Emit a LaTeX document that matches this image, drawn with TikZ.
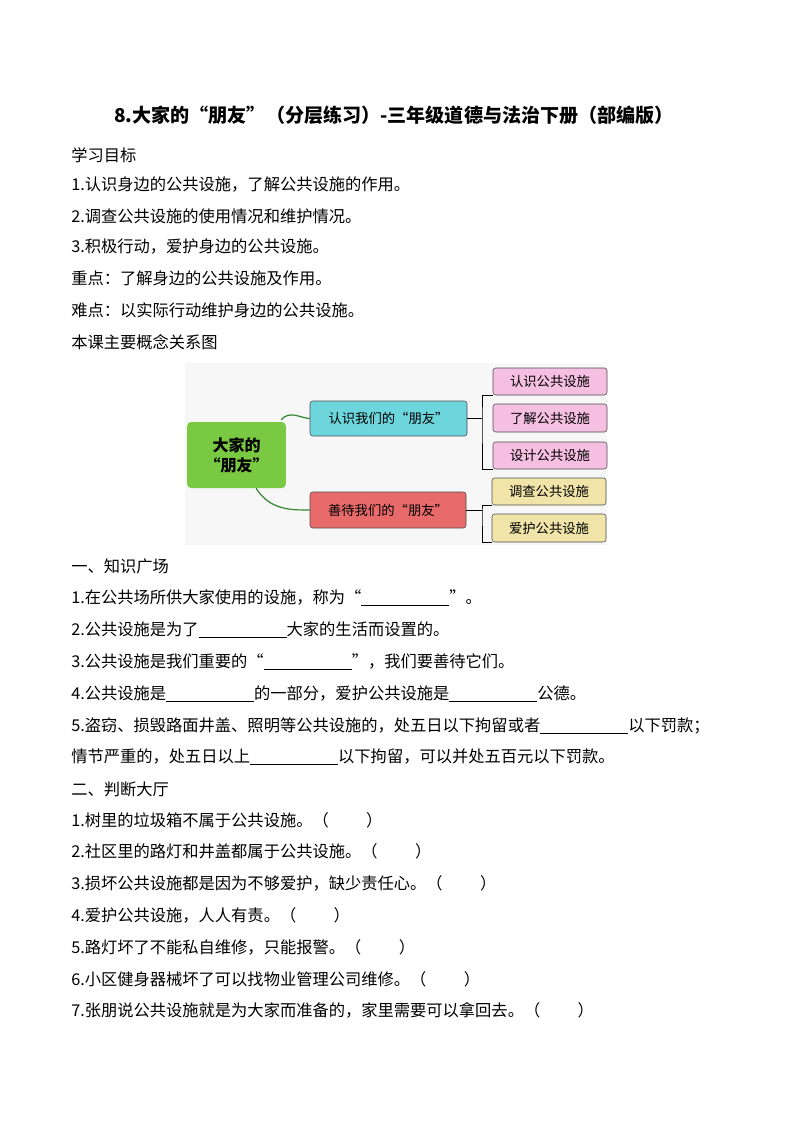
\documentclass[tikz,border=0pt]{standalone}
\usepackage{fontspec}
\setmainfont{Liberation Serif}
\newfontfamily\cjk{Noto Sans CJK SC}
\newcommand{\blk}[1]{\underline{\makebox[#1]{}}}
\definecolor{cgreen}{HTML}{7AC943}
\definecolor{ccyan}{HTML}{6DD5DC}
\definecolor{cred}{HTML}{E96A6A}
\definecolor{cpink}{HTML}{F5BFE2}
\definecolor{cyel}{HTML}{F0E4A8}
\begin{document}
\begin{tikzpicture}[x=0.75pt,y=-0.75pt,
  line/.style={anchor=west,inner sep=0pt,font=\cjk\fontsize{12.2}{14}\selectfont},
  box/.style={draw=black!70,rounded corners=2pt,inner sep=0pt,font=\cjk\fontsize{10}{12}\selectfont},
  conn/.style={draw=green!40!black!80,line width=0.9pt},
  brk/.style={draw=black,line width=0.6pt}]
\useasboundingbox (0,0) rectangle (794,1123);
\fill[white] (0,0) rectangle (794,1123);
\node[inner sep=0pt,font=\cjk\bfseries\fontsize{14.3}{16}\selectfont] (title) at (394,115) {8.大家的“朋友”（分层练习）-三年级道德与法治下册（部编版）};
\node[line] (l1) at (71,155) {学习目标};
\node[line] (l2) at (71,185) {1.认识身边的公共设施，了解公共设施的作用。};
\node[line] (l3) at (71,216) {2.调查公共设施的使用情况和维护情况。};
\node[line] (l4) at (71,247) {3.积极行动，爱护身边的公共设施。};
\node[line] (l5) at (71,278) {重点：了解身边的公共设施及作用。};
\node[line] (l6) at (71,310) {难点：以实际行动维护身边的公共设施。};
\node[line] (l7) at (71,342) {本课主要概念关系图};
% diagram
\fill[black!3] (185,363) rectangle (607,545);
\node[box,fill=cgreen,draw=none,text width=60pt,align=center,font=\cjk\bfseries\fontsize{12}{15}\selectfont,minimum width=74pt,minimum height=49.5pt,rounded corners=3pt] (c) at (236.5,455) {大家的\\“朋友”};
\node[box,fill=ccyan,minimum width=117.75pt,minimum height=26.25pt] (a) at (388.5,418.5) {认识我们的“朋友”};
\node[box,fill=cred,minimum width=117pt,minimum height=27pt] (b) at (388,510) {善待我们的“朋友”};
\node[box,fill=cpink,minimum width=85.5pt,minimum height=20.25pt] (p1) at (550,381.5) {认识公共设施};
\node[box,fill=cpink,minimum width=85.5pt,minimum height=21pt] (p2) at (550,418) {了解公共设施};
\node[box,fill=cpink,minimum width=85.5pt,minimum height=20.25pt] (p3) at (550,455.5) {设计公共设施};
\node[box,fill=cyel,minimum width=85.5pt,minimum height=20.25pt] (y1) at (549,491.5) {调查公共设施};
\node[box,fill=cyel,minimum width=85.5pt,minimum height=21pt] (y2) at (549,528) {爱护公共设施};
\draw[conn] (c.north east) ++(-5,-2) .. controls (290,410) and (300,418) .. (a.west);
\draw[conn] (c.south east) ++(-30,0) .. controls (270,510) and (290,510) .. (b.west);
\coordinate (ja) at (482,418.5);
\coordinate (jb) at (482,510);
\draw[brk] (a.east) -- (ja);
\draw[brk] (p1.south west) -| (ja) |- (p3.south west);
\draw[brk] (b.east) -- (jb);
\draw[brk] (y1.south west) -| (jb) |- (y2.south west);
% questions
\node[line] (q0) at (71,566) {一、知识广场};
\node[line] (q1) at (71,598) {1.在公共场所供大家使用的设施，称为“\blk{66pt}”。};
\node[line] (q2) at (71,630) {2.公共设施是为了\blk{66pt}大家的生活而设置的。};
\node[line] (q3) at (71,662) {3.公共设施是我们重要的“\blk{66pt}”，我们要善待它们。};
\node[line] (q4) at (71,694) {4.公共设施是\blk{66pt}的一部分，爱护公共设施是\blk{66pt}公德。};
\node[line] (q5) at (71,726) {5.盗窃、损毁路面井盖、照明等公共设施的，处五日以下拘留或者\blk{66pt}以下罚款；};
\node[line] (q6) at (71,757) {情节严重的，处五日以上\blk{66pt}以下拘留，可以并处五百元以下罚款。};
\node[line] (j0) at (71,789) {二、判断大厅};
\node[line] (j1) at (71,820) {1.树里的垃圾箱不属于公共设施。（\hspace{2.3em}）};
\node[line] (j2) at (71,851) {2.社区里的路灯和井盖都属于公共设施。（\hspace{2.3em}）};
\node[line] (j3) at (71,883) {3.损坏公共设施都是因为不够爱护，缺少责任心。（\hspace{2.3em}）};
\node[line] (j4) at (71,915) {4.爱护公共设施，人人有责。（\hspace{2.3em}）};
\node[line] (j5) at (71,947) {5.路灯坏了不能私自维修，只能报警。（\hspace{2.3em}）};
\node[line] (j6) at (71,979) {6.小区健身器械坏了可以找物业管理公司维修。（\hspace{2.3em}）};
\node[line] (j7) at (71,1010) {7.张朋说公共设施就是为大家而准备的，家里需要可以拿回去。（\hspace{2.3em}）};
\end{tikzpicture}
\end{document}
